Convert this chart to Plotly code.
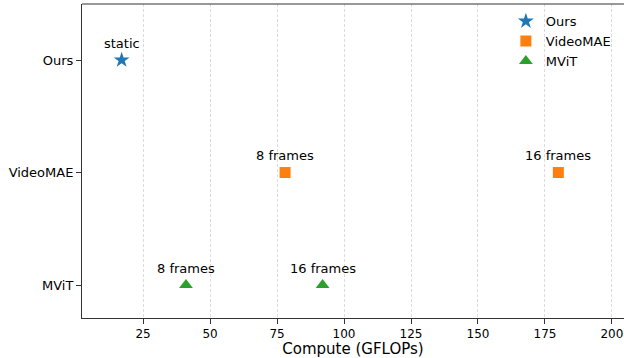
import plotly.graph_objects as go

categories = ["MViT", "VideoMAE", "Ours"]
ours_x = [17]
ours_labels = ["static"]
videomae_x = [78, 180]
videomae_labels = ["8 frames", "16 frames"]
mvit_x = [41, 92]
mvit_labels = ["8 frames", "16 frames"]

FONT = "DejaVu Sans"
fig = go.Figure()
fig.add_trace(go.Scatter(x=ours_x, y=["Ours"] * len(ours_x), mode="markers", name="Ours",
                         marker=dict(symbol="star", size=12, color="#1f77b4")))
fig.add_trace(go.Scatter(x=videomae_x, y=["VideoMAE"] * len(videomae_x), mode="markers", name="VideoMAE",
                         marker=dict(symbol="square", size=11, color="#ff7f0e")))
fig.add_trace(go.Scatter(x=mvit_x, y=["MViT"] * len(mvit_x), mode="markers", name="MViT",
                         marker=dict(symbol="triangle-up", size=12, color="#2ca02c")))

annotations = []
for xs, labs, cat in [(ours_x, ours_labels, "Ours"), (videomae_x, videomae_labels, "VideoMAE"), (mvit_x, mvit_labels, "MViT")]:
    for xv, lab in zip(xs, labs):
        annotations.append(dict(x=xv, y=cat, text=lab, showarrow=False, yshift=17,
                                font=dict(family=FONT, size=13, color="black")))

fig.update_layout(
    width=624, height=358,
    margin=dict(l=82, r=0, t=4, b=40),
    paper_bgcolor="white", plot_bgcolor="white",
    font=dict(family=FONT, size=12, color="black"),
    annotations=annotations,
    showlegend=True,
    legend=dict(x=0.985, y=0.993, xanchor="right", yanchor="top", bgcolor="rgba(0,0,0,0)",
                font=dict(family=FONT, size=13), itemwidth=30, tracegroupgap=0),
    xaxis=dict(range=[2.2, 204.5], tickvals=[25, 50, 75, 100, 125, 150, 175, 200],
               showgrid=True, gridcolor="#dcdcdc", griddash="3px,2px", gridwidth=1,
               showline=True, linecolor="#333", linewidth=1, mirror=False,
               ticks="outside", ticklen=5, tickcolor="#333", zeroline=False,
               title=dict(text="Compute (GFLOPs)", font=dict(family=FONT, size=15), standoff=4),
               tickfont=dict(family=FONT, size=12)),
    yaxis=dict(type="category", categoryorder="array", categoryarray=categories,
               range=[-0.293, 2.498], showgrid=False,
               showline=True, linecolor="#333", linewidth=1,
               ticks="outside", ticklen=5, tickcolor="#333",
               tickfont=dict(family=FONT, size=13)),
    shapes=[dict(type="line", xref="paper", yref="paper", x0=0, x1=1, y0=1, y1=1,
                 line=dict(color="#333", width=1))],
)
fig.write_html("out.html", config={"displayModeBar": False},
               post_script="document.body.style.margin='0';document.body.style.overflow='hidden';")
